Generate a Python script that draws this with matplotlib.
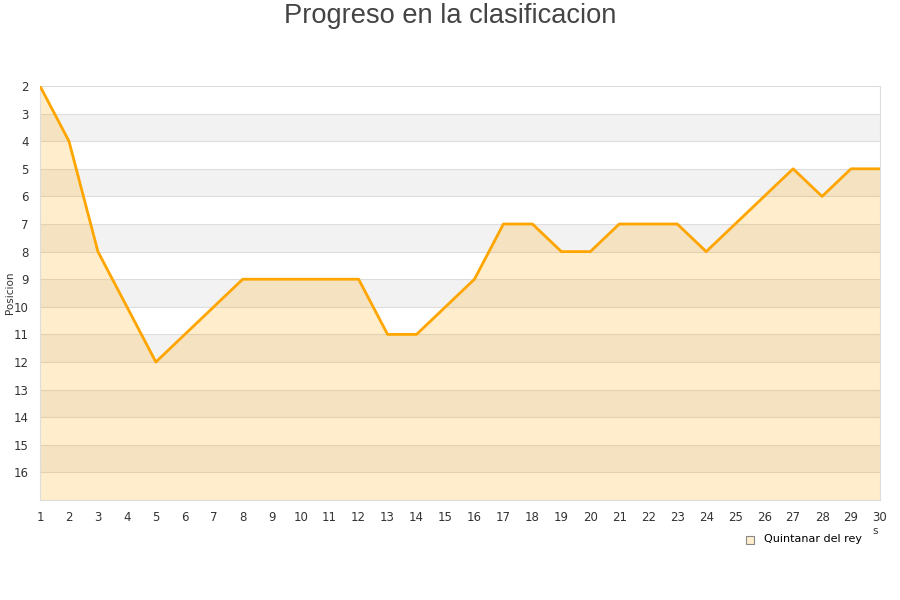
import matplotlib
matplotlib.use("Agg")
import matplotlib.pyplot as plt

# --- Data ---
jornadas = list(range(1, 31))
posicion = [2, 4, 8, 10, 12, 11, 10, 9, 9, 9, 9, 9, 11, 11, 10, 9,
            7, 7, 8, 8, 7, 7, 7, 8, 7, 6, 5, 6, 5, 5]
equipo = "Quintanar del rey"
y_ticks = list(range(2, 17))

LINE = "#FFA500"

fig = plt.figure(figsize=(9, 6), dpi=100)
ax = fig.add_axes([40 / 900, 1 - 500 / 600, 840 / 900, 414 / 600])

# alternating bands
for y0 in range(2, 17):
    if y0 % 2 == 1:
        ax.axhspan(y0, y0 + 1, color="#f2f2f2", zorder=0, lw=0)
for y0 in y_ticks:
    ax.axhline(y0, color="#dddddd", lw=0.8, zorder=1)

ax.fill_between(jornadas, posicion, 17, color=LINE, alpha=0.2, lw=0, zorder=2)
ax.plot(jornadas, posicion, color=LINE, lw=2.0, zorder=3,
        solid_joinstyle="round")

ax.set_xlim(1, 30)
ax.set_ylim(17, 2)
ax.set_xticks(jornadas)
ax.set_yticks(y_ticks)
ax.tick_params(length=0, labelsize=8.5, colors="#333333")
ax.tick_params(axis="x", pad=8)
ax.tick_params(axis="y", pad=8)
ax.spines["top"].set_visible(False)
for s in ["left", "right", "bottom"]:
    ax.spines[s].set_color("#dddddd")

fig.text(10 / 900, 1 - 293 / 600, "Posicion", rotation=90, fontsize=7.5,
         color="#333333", ha="center", va="center")
fig.text(0.5, 1 - 16 / 600, "Progreso en la clasificacion",
         fontsize=19.6, color="#444444", ha="center", va="center",
         family="Liberation Sans")
fig.text(875 / 900, 1 - 531 / 600, "s", fontsize=7.5, color="#333333",
         ha="center", va="center")

# legend
fig.patches.append(plt.Rectangle((746 / 900, 1 - 544 / 600), 8 / 900, 8 / 600,
                                 transform=fig.transFigure, facecolor="#FFEDCC",
                                 edgecolor="#888888", lw=0.8))
fig.text(764 / 900, 1 - 539 / 600, equipo, fontsize=8, color="#000000",
         ha="left", va="center")

fig.savefig("out.png", dpi=100)
